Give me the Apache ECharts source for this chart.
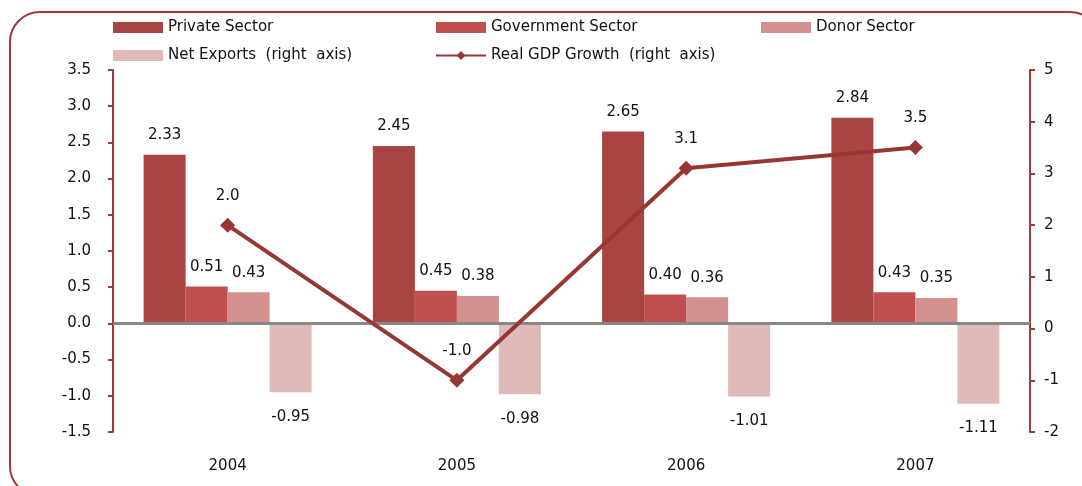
<!DOCTYPE html>
<html>
<head>
<meta charset="utf-8">
<script src="https://cdn.jsdelivr.net/npm/echarts@6/dist/echarts.min.js"></script>
<style>
  html, body { margin: 0; padding: 0; background: #fff; }
  #chart { width: 1082px; height: 486px; }
</style>
</head>
<body>
<div id="chart"></div>
<script>
// Contributions to growth by sector (left axis) and headline growth (right axis)
const years = ['2004', '2005', '2006', '2007'];
const privateSector = [2.33, 2.45, 2.65, 2.84];
const governmentSector = [0.51, 0.45, 0.40, 0.43];
const donorSector = [0.43, 0.38, 0.36, 0.35];
const netExports = [-0.95, -0.98, -1.01, -1.11];
const realGdpGrowth = [2.0, -1.0, 3.1, 3.5];

const FONT = '"DejaVu Sans", Verdana, sans-serif';
const AXIS_RED = '#9E3B3A';
const labelStyle = { color: '#111', fontSize: 15, fontFamily: FONT };

const chart = echarts.init(document.getElementById('chart'));

function barSeries(name, data, color, pos, dist, fmt) {
  return {
    name: name,
    type: 'bar',
    data: data,
    barWidth: 42,
    barGap: '0%',
    itemStyle: { color: color },
    label: Object.assign({
      show: true,
      position: pos,
      distance: dist,
      formatter: p => p.value.toFixed(fmt)
    }, labelStyle)
  };
}

const legendBase = {
  orient: 'vertical', top: 15, itemWidth: 50, itemHeight: 11, itemGap: 13, itemTextGap: 8,
  textStyle: { fontSize: 15, color: '#111', fontFamily: FONT }
};

chart.setOption({
  animation: false,
  graphic: [{
    type: 'rect',
    shape: { x: 10, y: 12, width: 1090, height: 484, r: 30 },
    style: { fill: 'none', stroke: '#9E3B3A', lineWidth: 2 },
    silent: true,
    z: -10
  }],
  legend: [
    Object.assign({}, legendBase, { left: 108,
      data: [{ name: 'Private Sector', icon: 'rect' }, { name: 'Net Exports  (right  axis)', icon: 'rect' }] }),
    Object.assign({}, legendBase, { left: 430,
      data: [{ name: 'Government Sector', icon: 'rect' }, { name: 'Real GDP Growth  (right  axis)' }] }),
    Object.assign({}, legendBase, { left: 756,
      data: [{ name: 'Donor Sector', icon: 'rect' }] })
  ],
  grid: { left: 113, right: 52, top: 70, bottom: 54 },
  xAxis: {
    type: 'category',
    data: years,
    axisLine: { show: false, onZero: false },
    axisTick: { show: false },
    axisLabel: { margin: 27, color: '#111', fontSize: 15, fontFamily: FONT },
    splitLine: { show: false }
  },
  yAxis: [
    {
      type: 'value',
      min: -1.5, max: 3.5, interval: 0.5,
      axisLine: { show: true, lineStyle: { color: AXIS_RED, width: 2 } },
      axisTick: { show: true, length: 5, lineStyle: { color: AXIS_RED, width: 2 } },
      axisLabel: { margin: 22, color: '#111', fontSize: 15, fontFamily: FONT,
                   formatter: v => v.toFixed(1) },
      splitLine: { show: false }
    },
    {
      type: 'value',
      min: -2, max: 5, interval: 1,
      position: 'right',
      axisLine: { show: true, lineStyle: { color: AXIS_RED, width: 2 } },
      axisTick: { show: true, length: 5, lineStyle: { color: AXIS_RED, width: 2 } },
      axisLabel: { margin: 14, color: '#111', fontSize: 15, fontFamily: FONT },
      splitLine: { show: false }
    }
  ],
  series: [
    Object.assign(barSeries('Private Sector', privateSector, '#A84442', 'top', 12, 2), {
      markLine: {
        silent: true,
        symbol: 'none',
        label: { show: false },
        lineStyle: { color: '#888888', width: 3, type: 'solid' },
        data: [{ yAxis: 0 }],
        z: 5
      }
    }),
    barSeries('Government Sector', governmentSector, '#C0504D', 'top', 12, 2),
    barSeries('Donor Sector', donorSector, '#D4908E', 'top', 12, 2),
    barSeries('Net Exports  (right  axis)', netExports, '#E0BAB9', 'bottom', 17, 2),
    {
      name: 'Real GDP Growth  (right  axis)',
      type: 'line',
      yAxisIndex: 1,
      data: realGdpGrowth,
      symbol: 'diamond',
      symbolSize: 15,
      z: 10,
      lineStyle: { color: '#953735', width: 4 },
      itemStyle: { color: '#953735' },
      label: Object.assign({
        show: true,
        position: 'top',
        distance: 14,
        formatter: p => p.value.toFixed(1)
      }, labelStyle)
    }
  ]
});
</script>
</body>
</html>
